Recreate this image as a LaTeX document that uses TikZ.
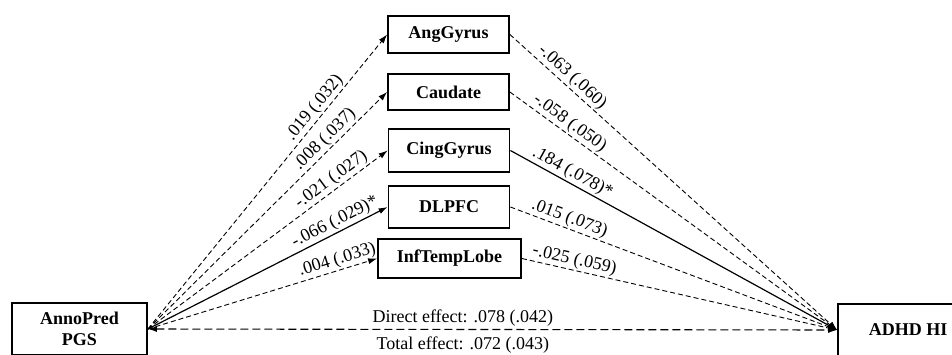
\documentclass[tikz,border=0pt]{standalone}
\usepackage{fontspec}
\setmainfont{Liberation Serif}
\usetikzlibrary{arrows.meta, calc}

\tikzset{
  varbox/.style={draw, line width=1.8pt, minimum width=121pt, minimum height=38pt, inner sep=2pt,
    align=center, font=\fontsize{18}{21}\selectfont\bfseries},
  effect/.style={-{Latex[length=9pt, width=6pt]}, line width=0.9pt},
  nsig/.style={effect, dash pattern=on 5pt off 3pt},
  coef/.style={sloped, above, inner sep=1.5pt, font=\fontsize{18}{20}\selectfont}
}

\begin{document}
\begin{tikzpicture}[x=1pt, y=-1pt]
  \useasboundingbox (0,0) rectangle (952,354);

  % predictor, outcome and the five mediators
  \node[varbox, minimum width=135pt, minimum height=52pt] (pgs) at (79.5,329) {AnnoPred\\PGS};
  \node[varbox, minimum width=140pt, minimum height=52pt] (adhd) at (908,330) {ADHD HI};
  \node[varbox, minimum height=37pt] (ang) at (448.5,34.5) {AngGyrus};
  \node[varbox, minimum height=36pt] (caud) at (448.5,92) {Caudate};
  \node[varbox, minimum height=43pt] (cing) at (449,150.5) {CingGyrus};
  \node[varbox, minimum height=42pt] (dlpfc) at (449,207) {DLPFC};
  \node[varbox, minimum width=143pt, minimum height=39pt] (itl) at (449.5,258.5) {InfTempLobe};

  % a paths
  \draw[nsig] (pgs.east) -- node[coef, pos=0.73] {.019 (.032)} (ang.west);
  \draw[nsig] (pgs.east) -- node[coef, pos=0.77] {.008 (.037)} (caud.west);
  \draw[nsig] (pgs.east) -- node[coef, pos=0.79] {-.021 (.027)} (cing.west);
  \draw[effect, line width=1.2pt] (pgs.east) -- node[coef, pos=0.8] {-.066 (.029)*} (dlpfc.west);
  \draw[nsig] (pgs.east) -- node[coef, pos=0.84] {.004 (.033)} (itl.west);

  % b paths
  \draw[nsig] (ang.east) -- node[coef, pos=0.17] {-.063 (.060)} (adhd.west);
  \draw[nsig] (caud.east) -- node[coef, pos=0.165] {-.058 (.050)} (adhd.west);
  \draw[effect, line width=1.2pt] (cing.east) -- node[coef, pos=0.175] {.184 (.078)*} (adhd.west);
  \draw[nsig] (dlpfc.east) -- node[coef, pos=0.17] {.015 (.073)} (adhd.west);
  \draw[nsig] (itl.east) -- node[coef, pos=0.16] {-.025 (.059)} (adhd.west);

  % c and c' paths
  \draw[{Latex[length=9pt, width=6pt]}-{Latex[length=9pt, width=6pt]}, line width=1.1pt,
    dash pattern=on 8pt off 4pt] (pgs.east) --
    node[pos=0.457, above, inner sep=3pt, font=\fontsize{18}{20}\selectfont] {Direct effect: .078 (.042)}
    node[pos=0.457, below, inner sep=7pt, font=\fontsize{18}{20}\selectfont] {Total effect: .072 (.043)}
    (adhd.west);
\end{tikzpicture}
\end{document}
